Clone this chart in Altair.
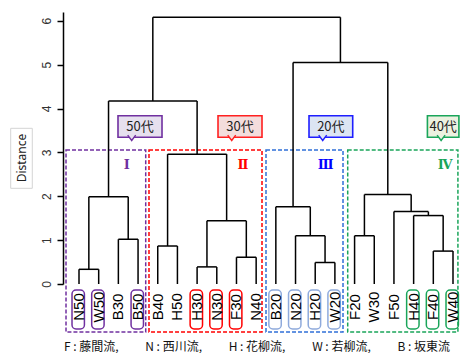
import altair as alt
import pandas as pd

# ---------------- data ----------------
leaves = ["N50", "W50", "B30", "B50", "B40", "H50", "H30", "N30", "F30", "N40",
          "B20", "N20", "H20", "W20", "F20", "W30", "F50", "H40", "F40", "W40"]

merge_id = ["m1", "m2", "m3", "m4", "m5", "m6", "m7", "m8", "m9", "m10",
            "m11", "m12", "m13", "m14", "m15", "m16", "m17", "m18", "m19"]
merge_left = ["N50", "B30", "m1", "B40", "H30", "F30", "m5", "m4", "m3", "H20",
              "N20", "B20", "F20", "F40", "H40", "F50", "m13", "m12", "m9"]
merge_right = ["W50", "B50", "m2", "H50", "N30", "N40", "m6", "m7", "m8", "W20",
               "m10", "m11", "W30", "W40", "m14", "m15", "m16", "m17", "m18"]
merge_height = [0.335, 1.02, 1.99, 0.866, 0.39, 0.61, 1.44, 2.96, 4.17, 0.49,
                1.10, 1.76, 1.10, 0.75, 1.56, 1.65, 2.04, 5.05, 6.08]

boxed_leaves = ["N50", "W50", "B50", "H30", "N30", "F30", "B20", "N20", "H20", "W20",
                "H40", "F40", "W40"]
boxed_group = ["50", "50", "50", "30", "30", "30", "20", "20", "20", "20", "40", "40", "40"]

cluster_names = ["Ⅰ", "Ⅱ", "Ⅲ", "Ⅳ"]
cluster_group = ["50", "30", "20", "40"]
cluster_from = [-0.660, 3.556, 9.500, 13.651]   # dashed box edges (leaf units)
cluster_to = [3.389, 9.297, 13.412, 19.25]
cluster_label_at = [2.423, 8.332, 12.533, 18.6]

age_labels = ["50代", "30代", "20代", "40代"]
age_group = ["50", "30", "20", "40"]
age_from = [1.981, 7.062, 11.685, 17.7]       # callout edges (leaf units)
age_to = [4.217, 9.297, 13.905, 19.3]

legend_text = "F : 藤間流,　　 N : 西川流,　　 H : 花柳流,　　 W : 若柳流,　　 B : 坂東流"

# ---------------- styles ----------------
grp_line = {"50": "#7030A0", "30": "#FF0000", "20": "#2F6FD8", "40": "#1AA55A"}
grp_text = {"50": "#7030A0", "30": "#FF0000", "20": "#0000FF", "40": "#1AA55A"}
grp_leafbox = {"50": "#7030A0", "30": "#FF0000", "20": "#8FAADC", "40": "#1AA55A"}
grp_callout_stroke = {"50": "#7030A0", "30": "#FF2020", "20": "#1E1EFF", "40": "#1AA55A"}
grp_callout_fill = {"50": "#E6E0EE", "30": "#F3DDDC", "20": "#DCE5F3", "40": "#ECF1E0"}

# ---------------- build dendrogram segments ----------------
pos = {name: i for i, name in enumerate(leaves)}
hgt = {name: 0.0 for name in leaves}
segs = []
for mid, l, r, h in zip(merge_id, merge_left, merge_right, merge_height):
    xl, xr = pos[l], pos[r]
    segs.append(dict(x=xl, x2=xl, y=hgt[l], y2=h))
    segs.append(dict(x=xr, x2=xr, y=hgt[r], y2=h))
    segs.append(dict(x=xl, x2=xr, y=h, y2=h))
    pos[mid] = (xl + xr) / 2
    hgt[mid] = h
seg_df = pd.DataFrame(segs)

X0, X1 = -0.813, 19.254
Y0, Y1 = 0.0, 6.2

xs = alt.Scale(domain=[X0, X1], nice=False, zero=False)
ys = alt.Scale(domain=[Y0, Y1], nice=False, zero=False)
yaxis = alt.Axis(values=[0, 1, 2, 3, 4, 5, 6], tickSize=6, labelAngle=270,
                 labelAlign="center", labelBaseline="alphabetic", labelPadding=7,
                 domainColor="black", domainWidth=1.5, tickColor="black", tickWidth=1.5,
                 grid=False, title=None, labelFontSize=12, labelColor="#333333",
                 labelFont="Liberation Sans")


def X(f):
    return alt.X(f, type="quantitative", scale=xs, axis=None)


def Y(f):
    return alt.Y(f, type="quantitative", scale=ys, axis=yaxis)


dendro = alt.Chart(seg_df).mark_rule(color="black", strokeWidth=1.5).encode(
    x=X("x"), x2="x2", y=Y("y"), y2="y2")

# cluster dashed boxes
cl_df = pd.DataFrame(dict(name=cluster_names, grp=cluster_group,
                          x=cluster_from, x2=cluster_to, tx=cluster_label_at))
cl_df["y"] = 3.055
cl_df["y2"] = -1.094
cl_df["ty"] = 2.71
cl_df["col"] = [grp_line[g] for g in cl_df.grp]
cl_df["tcol"] = [grp_text[g] for g in cl_df.grp]

cl_box = alt.Chart(cl_df).mark_rect(fillOpacity=0, strokeWidth=1.5, strokeDash=[4, 2]).encode(
    x=X("x"), x2="x2", y=Y("y"), y2="y2",
    stroke=alt.Stroke("col:N", scale=None))
cl_txt = alt.Chart(cl_df).mark_text(font="DejaVu Serif", fontWeight="bold", fontSize=13,
                                    align="center", baseline="middle").encode(
    x=X("tx"), y=Y("ty"), text="name:N", color=alt.Color("tcol:N", scale=None))

# leaf labels + boxes
lf_df = pd.DataFrame(dict(name=leaves, x=list(range(len(leaves))), y=[-0.524] * len(leaves)))
lb_df = pd.DataFrame(dict(name=boxed_leaves, grp=boxed_group))
lb_df["xc"] = [leaves.index(n) - 0.04 for n in boxed_leaves]
lb_df["x"] = lb_df.xc - 0.315
lb_df["x2"] = lb_df.xc + 0.315
lb_df["y"] = -0.137
lb_df["y2"] = -1.026
lb_df["col"] = [grp_leafbox[g] for g in lb_df.grp]

lf_box = alt.Chart(lb_df).mark_rect(fillOpacity=0, strokeWidth=1.5, cornerRadius=4).encode(
    x=X("x"), x2="x2", y=Y("y"), y2="y2", stroke=alt.Stroke("col:N", scale=None))
lf_txt = alt.Chart(lf_df).mark_text(font="Liberation Sans", fontSize=15, angle=270,
                                    align="center", baseline="middle", color="black").encode(
    x=X("x"), y=Y("y"), text="name:N")

# age callouts
ag_df = pd.DataFrame(dict(label=age_labels, grp=age_group, x=age_from, x2=age_to))
ag_df["y"] = 3.834
ag_df["y2"] = 3.344
ag_df["xc"] = (ag_df.x + ag_df.x2) / 2
ag_df["yc"] = 3.59
ag_df["px"] = ag_df.x + 0.696
ag_df["stk"] = [grp_callout_stroke[g] for g in ag_df.grp]
ag_df["fil"] = [grp_callout_fill[g] for g in ag_df.grp]

ag_box = alt.Chart(ag_df).mark_rect(strokeWidth=1.6).encode(
    x=X("x"), x2="x2", y=Y("y"), y2="y2",
    stroke=alt.Stroke("stk:N", scale=None), fill=alt.Fill("fil:N", scale=None))
ag_ptr = alt.Chart(ag_df).mark_point(shape="M-1,-0.55 L0,0.8 L1,-0.55", size=64,
                                     filled=True, strokeWidth=1.4, opacity=1).encode(
    x=X("px"), y=Y("y2"),
    stroke=alt.Stroke("stk:N", scale=None), fill=alt.Fill("fil:N", scale=None))
ag_txt = alt.Chart(ag_df).mark_text(font="Noto Sans CJK JP", fontSize=13, color="#222222",
                                    align="center", baseline="middle").encode(
    x=X("xc"), y=Y("yc"), text="label:N")

# y title box
ti_df = pd.DataFrame(dict(t=["Distance"], x=[-3.470], x2=[-2.373], y=[3.549], y2=[2.181],
                          xc=[-2.896], yc=[2.872]))
ti_box = alt.Chart(ti_df).mark_rect(fill="white", stroke="#D4D4D4", strokeWidth=1).encode(
    x=X("x"), x2="x2", y=Y("y"), y2="y2")
ti_txt = alt.Chart(ti_df).mark_text(font="Noto Sans", fontSize=12, angle=270, color="#222222",
                                    align="center", baseline="middle").encode(
    x=X("xc"), y=Y("yc"), text="t:N")

# bottom legend
lg_df = pd.DataFrame(dict(t=[legend_text], x=[9.04], y=[-1.436]))
lg_txt = alt.Chart(lg_df).mark_text(font="Noto Sans CJK JP", fontSize=12, color="#111111",
                                    align="center", baseline="middle").encode(
    x=X("x"), y=Y("y"), text="t:N")

chart = alt.layer(
    ti_box, ti_txt, cl_box, cl_txt, dendro, lf_box, lf_txt, ag_box, ag_ptr, ag_txt, lg_txt
).properties(
    width=395, height=272,
    autosize=alt.AutoSizeParams(type="none"),
    padding={"left": 55, "top": 4, "right": 2, "bottom": 69},
).configure_view(strokeWidth=0)

chart.save("out.html", embed_options={"renderer": "svg", "actions": False})
